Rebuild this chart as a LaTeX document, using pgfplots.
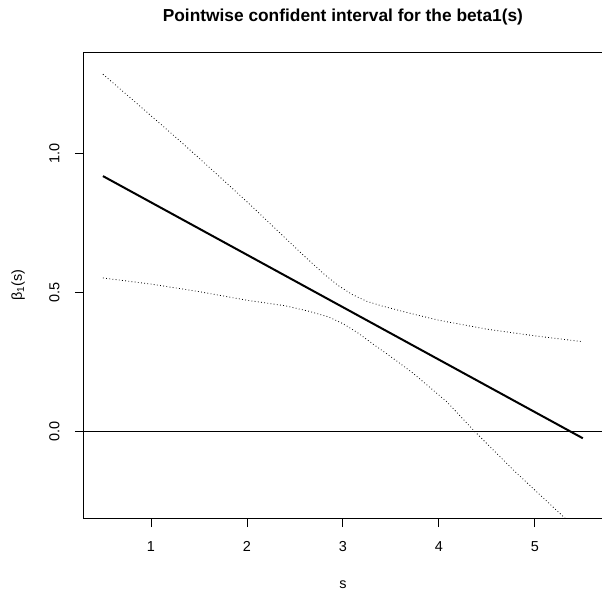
\documentclass[border=0pt]{standalone}
\usepackage{fontspec}
\setmainfont{Liberation Sans}
\usepackage{pgfplots}
\pgfplotsset{compat=1.18}
\begin{document}
\begin{tikzpicture}
\begin{axis}[name=ax, scale only axis, width=518.4bp, height=466.3bp,
  xmin=0.3, xmax=5.7, ymin=-0.311, ymax=1.364,
  xtick={1,2,3,4,5}, ytick={0,0.5,1}, yticklabels={0.0,0.5,1.0},
  tick align=outside, major tick length=9bp,
  tick style={black, line width=0.8bp},
  axis line style={line width=0.8bp},
  xtick pos=bottom, ytick pos=left,
  /pgf/number format/assume math mode=true,
  tick label style={font=\fontsize{14.5}{17}\selectfont},
  xticklabel style={anchor=base, yshift=-24.4bp},
  yticklabel style={rotate=90, anchor=base, yshift=15.5bp},
  clip=true]
\addplot[black, line width=0.8bp, forget plot] coordinates {(0.3,0) (5.7,0)};
\addplot[black, line width=2bp] coordinates {(0.5,0.918) (5.5,-0.024)};
\addplot[black, line width=0.8bp, dash pattern=on 0.8bp off 2.4bp] coordinates {
(0.5,1.284) (0.8,1.195) (1.0,1.135) (1.3,1.045) (1.67,0.930) (2.0,0.826)
(2.3,0.728) (2.6,0.630) (2.8,0.567) (2.95,0.525) (3.1,0.492) (3.25,0.468) (3.4,0.452)
(3.7,0.425) (4.0,0.400) (4.5,0.368) (5.0,0.344) (5.5,0.323)};
\addplot[black, line width=0.8bp, dash pattern=on 0.8bp off 2.4bp] coordinates {
(0.5,0.552) (1.0,0.530) (1.5,0.503) (2.0,0.472) (2.4,0.452) (2.65,0.432)
(2.85,0.412) (3.0,0.388) (3.15,0.356) (3.3,0.318) (3.52,0.264) (3.73,0.210) (4.08,0.108)
(4.375,0.0) (4.776,-0.138) (5.295,-0.305) (5.5,-0.37)};
\end{axis}
\node[anchor=base, font=\bfseries\fontsize{17.4}{20}\selectfont] at ([yshift=30bp]ax.north) {Pointwise confident interval for the beta1(s)};
\node[anchor=base, font=\fontsize{14.5}{17}\selectfont] at ([yshift=-70bp]ax.south) {s};
\node[anchor=base, rotate=90, font=\fontsize{14.5}{17}\selectfont] at ([xshift=-61.8bp]ax.west) {β\textsubscript{1}(s)};
\pgfresetboundingbox
\path ([shift={(-83.8bp,-74bp)}]ax.south west) rectangle ([shift={(0bp,52bp)}]ax.north east);
\end{tikzpicture}
\end{document}
